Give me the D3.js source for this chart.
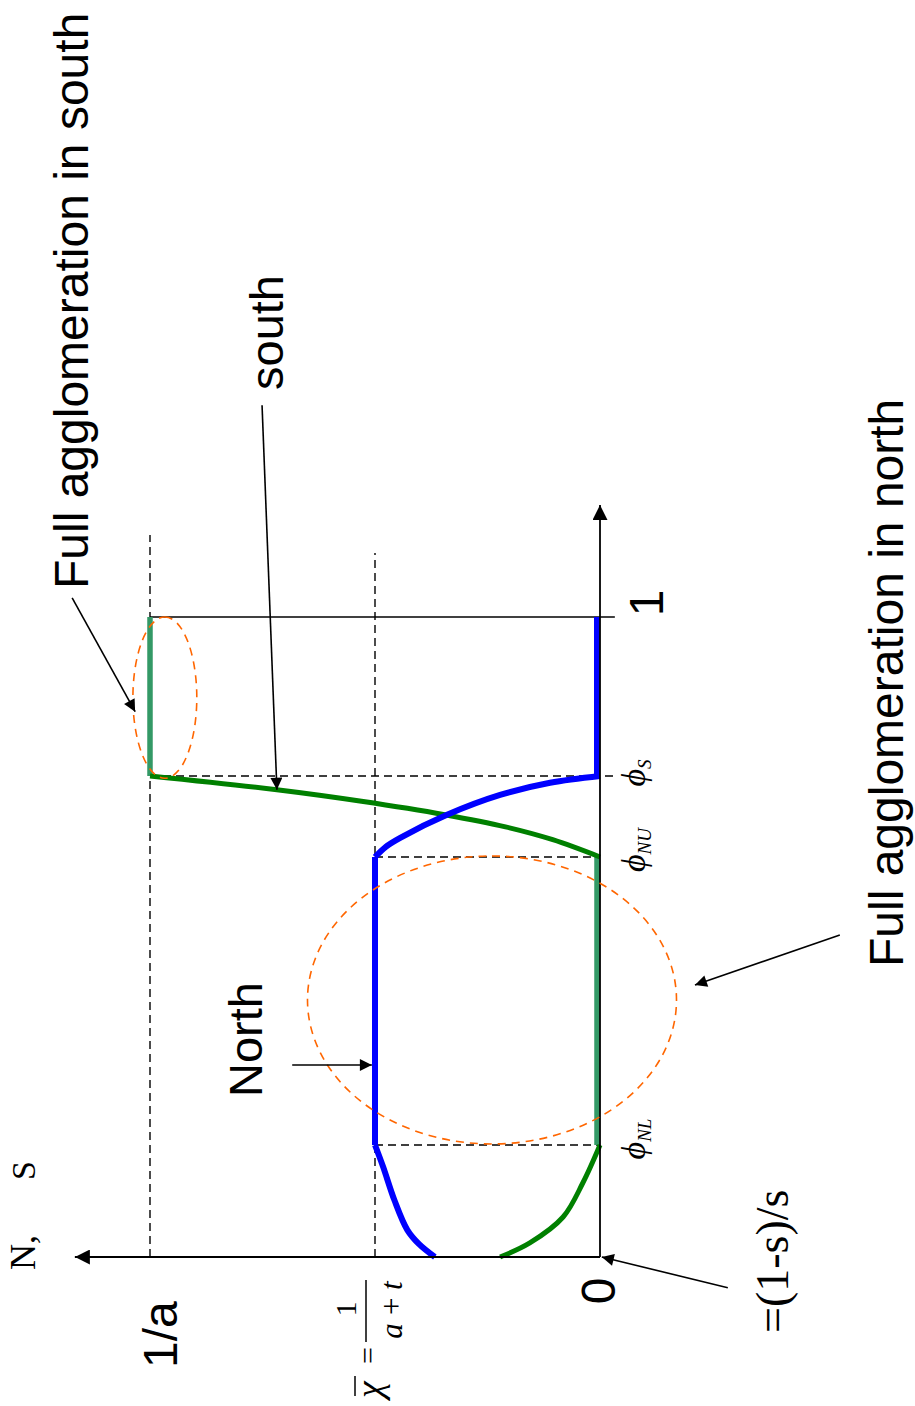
<!DOCTYPE html>
<html>
<head>
<meta charset="utf-8">
<script src="https://cdn.jsdelivr.net/npm/d3@7"></script>
<style>
  html, body { margin: 0; padding: 0; background: #fff; }
  svg { display: block; }
</style>
</head>
<body>
<svg id="chart" width="915" height="1406"></svg>
<script>
// ---- thresholds on the phi axis ----
const phiNL = 0.175;
const phiNU = 0.625;
const phiS  = 0.7516;
const chiBar = 0.5;          // 1/(a+t) measured in units of 1/a
const fullLevel = 1;         // 1/a

// ---- North (blue) ----
const northLeftPhi = [0, 0.02, 0.042, 0.089, 0.141, 0.175];
const northLeftVal = [0.367, 0.402, 0.428, 0.457, 0.482, 0.5];
const northDropPhi = [0.625, 0.641, 0.655, 0.691, 0.722, 0.741, 0.7516];
const northDropVal = [0.5, 0.476, 0.444, 0.340, 0.222, 0.111, 0];

// ---- South (green) ----
const southLeftPhi = [0, 0.022, 0.0625, 0.116, 0.175];
const southLeftVal = [0.222, 0.156, 0.082, 0.038, 0];
const southRisePhi = [0.625, 0.652, 0.672, 0.691, 0.712, 0.730, 0.7516];
const southRiseVal = [0, 0.105, 0.21, 0.345, 0.53, 0.718, 1];

// ---- annotation ellipses: [phi centre, value centre, phi radius, value radius] ----
const ellipseNorth = [0.4016, 0.24, 0.225, 0.41];
const ellipseSouth = [0.874, 0.967, 0.126, 0.071];

// ---- annotation arrows: [tail phi, tail value, head phi, head value] ----
const arrowSouthFull = [1.030, 1.173, 0.852, 1.033];
const arrowSouth     = [1.331, 0.751, 0.730, 0.718];
const arrowNorth     = [0.300, 0.684, 0.300, 0.507];
const arrowNorthFull = [0.503, -0.533, 0.425, -0.211];
const arrowOrigin    = [-0.048, -0.284, 0.0, -0.004];

const SANS = "'Liberation Sans', Arial, sans-serif";
const SERIF = "'Liberation Serif', 'Times New Roman', serif";
const BLUE = "#0000ff", GREEN = "#008000", SEAGREEN = "#339966", ORANGE = "#ff6600";

const svg = d3.select("#chart");

// arrowheads
const defs = svg.append("defs");
function head(id, w, h) {
  defs.append("marker")
    .attr("id", id)
    .attr("viewBox", "0 0 10 10")
    .attr("refX", 10).attr("refY", 5)
    .attr("markerUnits", "userSpaceOnUse")
    .attr("markerWidth", w).attr("markerHeight", h)
    .attr("orient", "auto")
    .append("path").attr("d", "M0,0L10,5L0,10Z").attr("fill", "#000");
}
head("axisHead", 15, 15);
head("noteHead", 14, 12);

// The figure is laid out landscape and turned a quarter turn counter-clockwise.
const g = svg.append("g").attr("transform", "translate(0,1406) rotate(-90)");

const x = d3.scaleLinear().domain([0, 1]).range([149, 789]);
const y = d3.scaleLinear().domain([0, 1]).range([600, 150]);

function seg(p0, v0, p1, v1) {
  return g.append("line")
    .attr("x1", x(p0)).attr("y1", y(v0))
    .attr("x2", x(p1)).attr("y2", y(v1));
}
const dash = "8,5";

// ---- guide lines ----
seg(0, fullLevel, 1.128, fullLevel).attr("stroke", "#000").attr("stroke-width", 1.4).attr("stroke-dasharray", dash);
seg(0, chiBar, 1.10, chiBar).attr("stroke", "#000").attr("stroke-width", 1.4).attr("stroke-dasharray", dash);
seg(phiS, fullLevel, phiS, -0.037).attr("stroke", "#000").attr("stroke-width", 1.4).attr("stroke-dasharray", dash);
seg(phiNU, chiBar, phiNU, 0).attr("stroke", "#000").attr("stroke-width", 1.4).attr("stroke-dasharray", dash);
seg(phiNL, chiBar, phiNL, 0).attr("stroke", "#000").attr("stroke-width", 1.4).attr("stroke-dasharray", dash);
seg(1, fullLevel, 1, -0.033).attr("stroke", "#000").attr("stroke-width", 1.6);

// ---- curves ----
const zip = (a, b) => a.map((d, i) => [d, b[i]]);
const curve = d3.line().x(d => x(d[0])).y(d => y(d[1])).curve(d3.curveCatmullRom.alpha(0.5));
const straight = d3.line().x(d => x(d[0])).y(d => y(d[1]));

function path(data, gen, color, w) {
  return g.append("path").attr("d", gen(data))
    .attr("fill", "none").attr("stroke", color).attr("stroke-width", w)
    .attr("stroke-linejoin", "round");
}

// South: flat segments
path([[phiNL, 0], [phiNU, 0]], straight, SEAGREEN, 5.5).attr("transform", "translate(0,-3)");
path([[phiS, fullLevel], [1, fullLevel]], straight, SEAGREEN, 5.5);
// South: curved segments
path(zip(southLeftPhi, southLeftVal), curve, GREEN, 5);
path(zip(southRisePhi, southRiseVal), curve, GREEN, 5);

// North
path(zip(northLeftPhi, northLeftVal), curve, BLUE, 6);
path([[phiNL, chiBar], [phiNU, chiBar]], straight, BLUE, 6);
path(zip(northDropPhi, northDropVal), curve, BLUE, 6);
path([[phiS, 0], [1, 0]], straight, BLUE, 6).attr("transform", "translate(0,-3)");

// ---- axes ----
seg(0, 0, 1.175, 0).attr("stroke", "#000").attr("stroke-width", 1.8).attr("marker-end", "url(#axisHead)");
seg(0, 0, 0, 1.167).attr("stroke", "#000").attr("stroke-width", 1.8).attr("marker-end", "url(#axisHead)");

// ---- ellipses ----
function ellipse(e) {
  g.append("ellipse")
    .attr("cx", x(e[0])).attr("cy", y(e[1]))
    .attr("rx", x(e[2]) - x(0)).attr("ry", y(0) - y(e[3]))
    .attr("fill", "none").attr("stroke", ORANGE)
    .attr("stroke-width", 1.6).attr("stroke-dasharray", "8,6");
}
ellipse(ellipseNorth);
ellipse(ellipseSouth);

// ---- arrows ----
[arrowSouthFull, arrowSouth, arrowNorth, arrowNorthFull, arrowOrigin].forEach(a => {
  seg(a[0], a[1], a[2], a[3]).attr("stroke", "#000").attr("stroke-width", 1.6)
    .attr("marker-end", "url(#noteHead)");
});

// ---- text ----
function label(u, v, str, size, family, opts = {}) {
  const t = g.append("text").attr("x", u).attr("y", v)
    .attr("font-family", family).attr("font-size", size).attr("fill", "#000")
    .attr("text-anchor", opts.anchor || "start")
    .text(str);
  if (opts.italic) t.attr("font-style", "italic");
  return t;
}

label(817, 88, "Full agglomeration in south", 48, SANS);
label(439, 903, "Full agglomeration in north", 48, SANS);
label(1016, 283, "south", 47, SANS);
label(309, 262, "North", 47, SANS);

label(38, 177, "1/a", 48, SANS);
label(x(0) - 34, 615, "0", 48, SANS, { anchor: "middle" });
label(x(1) + 14, 663, "1", 48, SANS, { anchor: "middle" });

label(136, 35, "N,", 36, SERIF);
label(226, 35, "S", 34, SERIF);

label(73, 788, "=(1-s)/s", 46, SERIF);

// phi markers on the horizontal axis
function phiLabel(p, sub, dx) {
  const t = g.append("text").attr("x", x(p) + dx).attr("y", 645)
    .attr("font-family", SERIF).attr("font-style", "italic")
    .attr("font-size", 34).attr("text-anchor", "middle");
  t.append("tspan").text("ϕ");
  t.append("tspan").attr("font-size", 19).attr("dy", 6).text(sub);
}
phiLabel(phiS, "S", 3);
phiLabel(phiNU, "NU", 7);
phiLabel(phiNL, "NL", 6);

// chi-bar = 1/(a+t)
label(8, 382, "χ", 38, SERIF, { italic: true });
g.append("line").attr("x1", 10).attr("x2", 30).attr("y1", 355).attr("y2", 355)
  .attr("stroke", "#000").attr("stroke-width", 1.5);
label(42, 378, "=", 30, SERIF);
g.append("line").attr("x1", 64).attr("x2", 126).attr("y1", 366).attr("y2", 366)
  .attr("stroke", "#000").attr("stroke-width", 1.5);
label(97, 356, "1", 30, SERIF, { anchor: "middle" });
label(96, 402, "a\u2009+\u2009t", 31, SERIF, { anchor: "middle", italic: true });
</script>
</body>
</html>
